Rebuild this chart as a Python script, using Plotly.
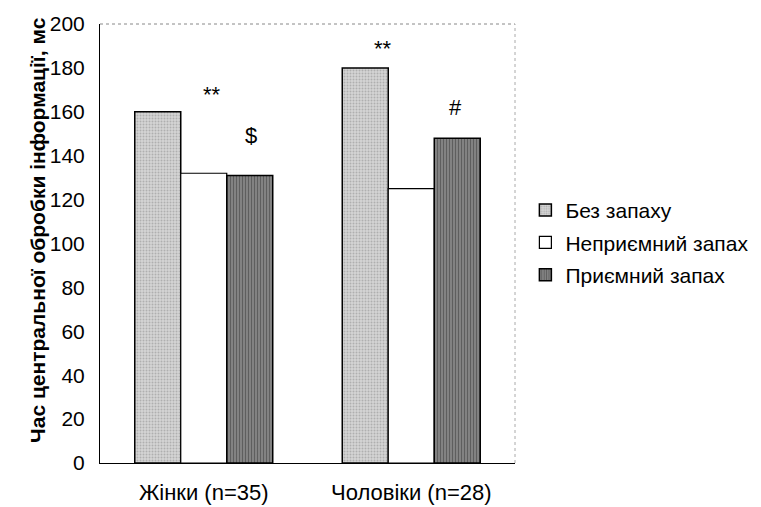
import plotly.graph_objects as go

categories = ["Жінки (n=35)", "Чоловіки (n=28)"]
series_names = ["Без запаху", "Неприємний запах", "Приємний запах"]
no_odor = [160, 180]
unpleasant = [132, 125]
pleasant = [131, 148]
y_ticks = [0, 20, 40, 60, 80, 100, 120, 140, 160, 180, 200]
y_title = "Час центральної обробки інформації, мс"
marks = ["**", "$", "**", "#"]
mark_cat = [categories[0], categories[0], categories[1], categories[1]]
mark_y = [168, 149, 189, 162]
mark_shift = [8, 47, -28, 44]

FONT = "Liberation Sans, Arial, sans-serif"

fig = go.Figure()
fig.add_trace(go.Bar(
    name=series_names[0], x=categories, y=no_odor, legendgroup="a",
    marker=dict(color="#d4d4d4", line=dict(color="black", width=1.5),
                pattern=dict(shape=".", fgcolor="#8a8a8a", size=3, solidity=0.35)),
))
fig.add_trace(go.Bar(
    name=series_names[1], x=categories, y=unpleasant, legendgroup="b",
    marker=dict(color="white", line=dict(color="black", width=1.2)),
))
fig.add_trace(go.Bar(
    name=series_names[2], x=categories, y=pleasant, legendgroup="c",
    marker=dict(color="#8e8e8e", line=dict(color="black", width=1.5),
                pattern=dict(shape="|", fgcolor="#2e2e2e", size=3, solidity=0.5)),
))

for t, c, yv, s in zip(marks, mark_cat, mark_y, mark_shift):
    fig.add_annotation(x=c, y=yv, text=t, showarrow=False, xshift=s,
                       font=dict(family=FONT, size=22, color="black"))

# y-axis title as rotated annotation
fig.add_annotation(xref="paper", yref="paper", x=-0.149, y=0.531,
                   xanchor="center", yanchor="middle",
                   text="<b>" + y_title + "</b>", textangle=-90, showarrow=False,
                   font=dict(family=FONT, size=21, color="black"))

# dotted top and right frame
fig.add_shape(type="line", xref="paper", yref="paper", x0=0, x1=1, y0=1, y1=1,
              line=dict(color="#888", width=1, dash="dot"))
fig.add_shape(type="line", xref="paper", yref="paper", x0=1, x1=1, y0=0, y1=1,
              line=dict(color="#aaa", width=1, dash="dot"))

fig.update_layout(
    width=761, height=507,
    margin=dict(l=92, r=254, t=16, b=52, autoexpand=False),
    paper_bgcolor="white", plot_bgcolor="white",
    barmode="group", bargap=0.335, bargroupgap=0,
    font=dict(family=FONT, size=20, color="black"),
    showlegend=True,
    legend=dict(x=1.025, y=0.622, xanchor="left", yanchor="top",
                font=dict(family=FONT, size=21), itemwidth=30,
                tracegroupgap=2, bgcolor="rgba(0,0,0,0)"),
    xaxis=dict(showline=True, linecolor="black", linewidth=1, ticks="outside",
               ticklen=10, tickcolor="white", automargin=False,
               tickfont=dict(size=22), showgrid=False),
    yaxis=dict(range=[0, 200], tickvals=y_ticks, showline=True, linecolor="black",
               linewidth=1, ticks="outside", ticklen=10, tickcolor="white",
               automargin=False, showgrid=False, zeroline=False,
               tickfont=dict(size=21)),
)

fig.write_html("out.html")
